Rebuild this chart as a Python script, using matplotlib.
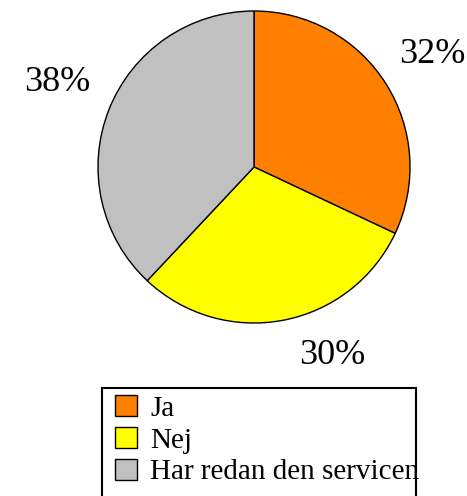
import matplotlib

matplotlib.use("Agg")

import matplotlib.pyplot as plt
from matplotlib.patches import Rectangle

categories = ["Ja", "Nej", "Har redan den servicen"]
shares = [32, 30, 38]
colors = ["#FF8000", "#FFFF00", "#C0C0C0"]

# where the percentage labels sit (data units, pie radius = 1)
label_positions = [(1.14, 0.72), (0.50, -1.21), (-1.26, 0.54)]

plt.rcParams["font.family"] = ["Liberation Serif", "DejaVu Serif"]

W, H = 467, 496
figure = plt.figure(figsize=(W / 100, H / 100), dpi=100)

# pie: centre (254, 167) px, radius 156 px
cx, cy, r = 254, 167, 156
axis = figure.add_axes([(cx - r) / W, (H - cy - r) / H, 2 * r / W, 2 * r / H])

wedges, _, autotexts = axis.pie(
    shares,
    colors=colors,
    startangle=90,
    counterclock=False,
    autopct="%d%%",
    wedgeprops={"edgecolor": "black", "linewidth": 1.0},
    textprops={"fontsize": 26, "color": "black"},
)
for text, (x, y) in zip(autotexts, label_positions):
    text.set_position((x, y))

axis.set_xlim(-1, 1)
axis.set_ylim(-1, 1)

# legend frame runs past the bottom edge of the picture
frame = Rectangle(
    (102 / W, -0.05),
    (416 - 102) / W,
    (H - 388) / H + 0.05,
    transform=figure.transFigure,
    facecolor="white",
    edgecolor="black",
    linewidth=1.5,
    zorder=1,
)
figure.patches.append(frame)

legend = figure.legend(
    wedges,
    categories,
    loc="upper left",
    bbox_to_anchor=(115 / W, 1 - 395 / H),
    frameon=False,
    fontsize=21,
    handlelength=0.75,
    handleheight=0.75,
    handletextpad=0.45,
    labelspacing=0.17,
    borderpad=0,
    borderaxespad=0,
)
legend.set_zorder(2)

figure.savefig("out.png", dpi=100)
